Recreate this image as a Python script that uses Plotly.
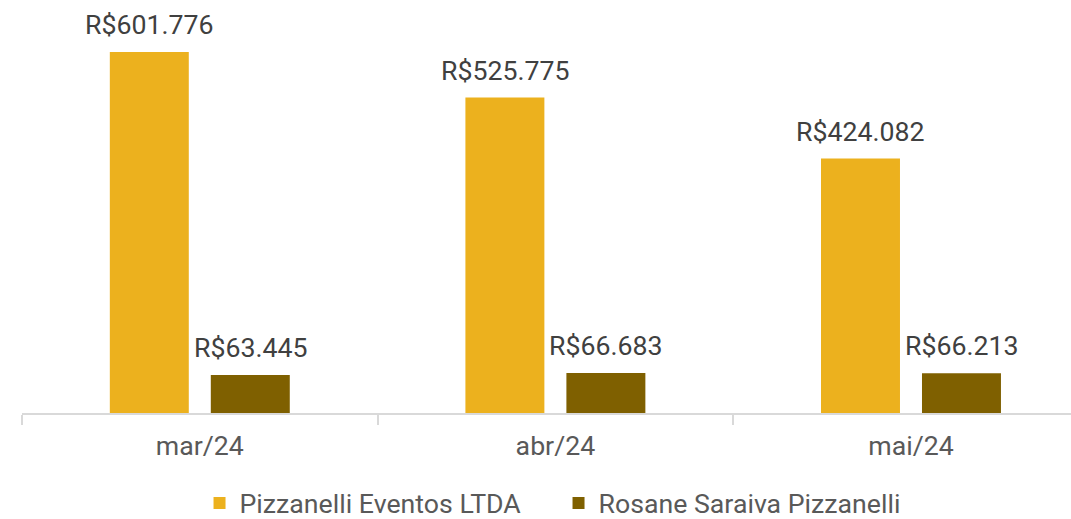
import plotly.graph_objects as go

categories = ["mar/24", "abr/24", "mai/24"]
series_names = ["Pizzanelli Eventos LTDA", "Rosane Saraiva Pizzanelli"]
pizzanelli = [601776, 525775, 424082]
rosane = [63445, 66683, 66213]
colors = ["#ECB11E", "#7F6000"]

FS = 26.7


def fmt(v):
    return "R$" + f"{v:,}".replace(",", ".")


fig = go.Figure()
for name, vals, col in zip(series_names, [pizzanelli, rosane], colors):
    fig.add_trace(go.Bar(
        x=categories, y=vals, name=name, marker_color=col,
        marker_line_width=0,
    ))

annotations = []
for i, vals in enumerate([pizzanelli, rosane]):
    off = -0.142 if i == 0 else 0.142
    for j, v in enumerate(vals):
        annotations.append(dict(
            x=j + off, y=v, xref="x", yref="y", text=fmt(v),
            showarrow=False, yanchor="bottom", xanchor="center", yshift=9,
            font=dict(family="Roboto", size=FS, color="#404040"),
        ))

fig.update_layout(
    width=1071, height=519,
    margin=dict(l=22, r=0, t=0, b=106, autoexpand=False),
    paper_bgcolor="white", plot_bgcolor="white",
    barmode="group", bargap=0.432, bargroupgap=0.218,
    font=dict(family="Roboto", size=FS, color="#595959"),
    xaxis=dict(
        type="category", range=[-0.5, 2.45],
        showline=True, linecolor="#D9D9D9", linewidth=2,
        ticks="outside", tickson="boundaries", ticklen=10, tickcolor="#D9D9D9", tickwidth=2,
        tickfont=dict(family="Roboto", size=FS, color="#595959"),
        ticklabelstandoff=8,
        showgrid=False,
    ),
    yaxis=dict(range=[0, 688333], visible=False, showgrid=False),
    showlegend=True,
    legend=dict(
        orientation="h", xref="container", yref="paper",
        x=0.5215, y=-0.218, xanchor="center", yanchor="middle",
        font=dict(family="Roboto", size=FS, color="#595959"),
        itemwidth=30, entrywidth=314,
    ),
    annotations=annotations,
)

fig.write_html(
    "out.html",
    config={"displayModeBar": False},
    post_script="document.body.style.margin='0px';document.body.style.overflow='hidden';document.documentElement.style.overflow='hidden';",
)
